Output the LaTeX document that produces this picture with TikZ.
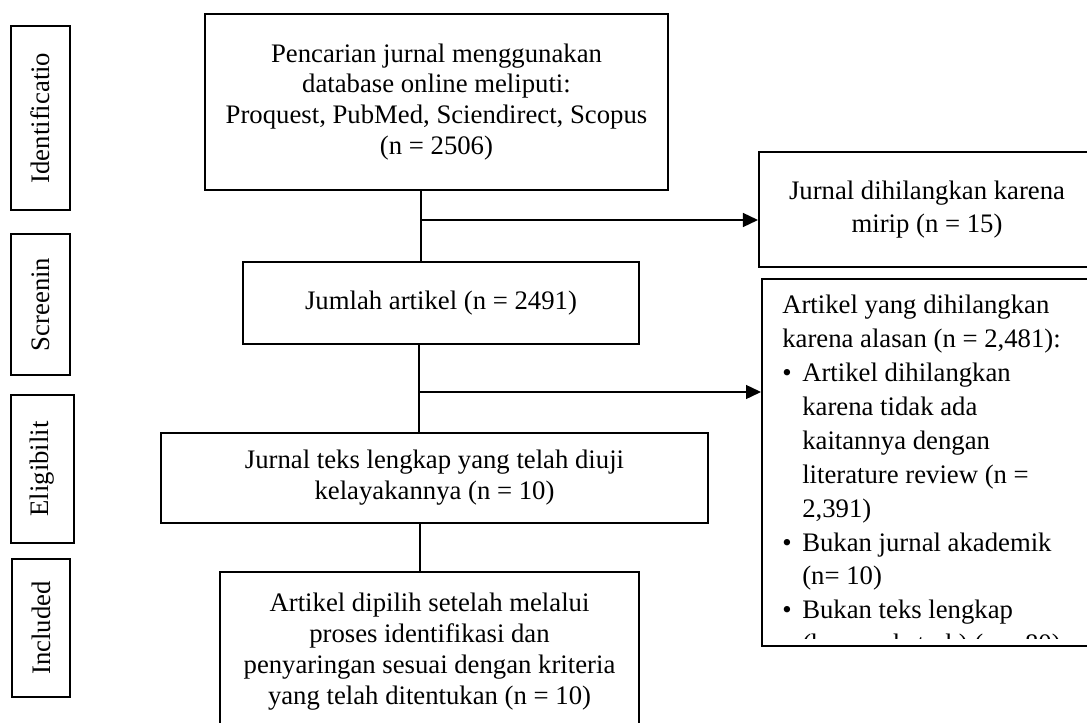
\documentclass[tikz,border=0pt]{standalone}
\usepackage{fontspec}
\setmainfont{Liberation Serif}
\usetikzlibrary{arrows.meta,positioning}

\begin{document}
\begin{tikzpicture}[
    x=0.025cm, y=-0.025cm,
    stage/.style={rectangle, draw, line width=1.4pt, rotate=90, inner sep=0pt, font=\fontsize{19}{22}\selectfont},
    box/.style={rectangle, draw, line width=1.4pt, align=center, inner sep=0pt, font=\fontsize{19}{22}\selectfont},
    sidebox/.style={rectangle, draw, line width=1.4pt, align=center, inner sep=0pt, font=\fontsize{19}{24}\selectfont},
    trunk/.style={line width=0.8pt},
    arrow/.style={-{Triangle[length=0.375cm, width=0.35cm]}, line width=1pt}
]

% Frame
\useasboundingbox (0,0) rectangle (1087,723);
\clip (0,0) rectangle (1087,723);

% Stages on the left
\node[stage, minimum width=4.6cm, minimum height=1.475cm] (identification) at (40.5,118) {Identificatio};
\node[stage, minimum width=3.525cm, minimum height=1.475cm] (screening) at (40.5,304.5) {Screenin};
\node[stage, minimum width=3.7cm, minimum height=1.575cm] (eligibility) at (42.5,469) {Eligibilit};
\node[stage, minimum width=3.45cm, minimum height=1.45cm] (included) at (41,628) {Included};

% Main flow
\node[box, minimum width=11.575cm, minimum height=4.375cm] (search) at (436.5,102) {Pencarian jurnal menggunakan\\database online meliputi:\\Proquest, PubMed, Sciendirect, Scopus\\(n = 2506)};
\node[box, minimum width=9.9cm, minimum height=2.05cm] (total) at (441,303) {Jumlah artikel (n = 2491)};
\node[box, minimum width=13.675cm, minimum height=2.25cm] (fulltext) at (434.5,478) {Jurnal teks lengkap yang telah diuji\\kelayakannya (n = 10)};
\node[box, minimum width=10.475cm, minimum height=4cm] (selected) at (429.5,652) {Artikel dipilih setelah melalui\\proses identifikasi dan\\penyaringan sesuai dengan kriteria\\yang telah ditentukan (n = 10)};

% Removed articles
\node[sidebox, minimum width=8.4cm, minimum height=2.875cm] (duplicates) at (927,209.5) {Jurnal dihilangkan karena\\mirip (n = 15)};
\node[sidebox, minimum width=8.35cm, minimum height=9.175cm, anchor=north west] (excluded) at (761,278) {};
\begin{scope}
\clip (761,278) rectangle (1095,638);
\node[anchor=north west, inner sep=0pt, align=left, font=\fontsize{19}{24.1}\selectfont] (reasons) at (782,295) {Artikel yang dihilangkan\\
karena alasan (n = 2,481):\\
\makebox[0.5cm][l]{\textbullet}Artikel dihilangkan\\
\hspace*{0.5cm}karena tidak ada\\
\hspace*{0.5cm}kaitannya dengan\\
\hspace*{0.5cm}literature review (n =\\
\hspace*{0.5cm}2,391)\\
\makebox[0.5cm][l]{\textbullet}Bukan jurnal akademik\\
\hspace*{0.5cm}(n= 10)\\
\makebox[0.5cm][l]{\textbullet}Bukan teks lengkap\\
\hspace*{0.5cm}(hanya abstrak) (n = 80)};
\end{scope}

% Connectors
\coordinate (split1) at (421,220);
\coordinate (split2) at (419,392);
\coordinate (split3) at (420,545);
\draw[trunk] (search.south -| split1) -- (total.north -| split1);
\draw[arrow] (split1) -- (split1 -| duplicates.west);
\draw[trunk] (total.south -| split2) -- (fulltext.north -| split2);
\draw[arrow] (split2) -- (split2 -| excluded.west);
\draw[trunk] (fulltext.south -| split3) -- (selected.north -| split3);

\end{tikzpicture}
\end{document}
